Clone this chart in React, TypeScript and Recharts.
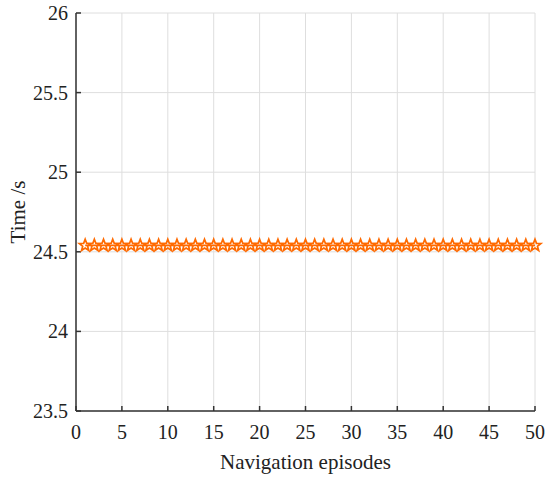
import { LineChart, Line, XAxis, YAxis, CartesianGrid } from "recharts";

const episodes = [
  1, 2, 3, 4, 5, 6, 7, 8, 9, 10, 11, 12, 13, 14, 15, 16, 17, 18, 19, 20, 21, 22, 23, 24, 25,
  26, 27, 28, 29, 30, 31, 32, 33, 34, 35, 36, 37, 38, 39, 40, 41, 42, 43, 44, 45, 46, 47, 48, 49, 50,
];
const times = [
  24.54, 24.54, 24.54, 24.54, 24.54, 24.54, 24.54, 24.54, 24.54, 24.54,
  24.54, 24.54, 24.54, 24.54, 24.54, 24.54, 24.54, 24.54, 24.54, 24.54,
  24.54, 24.54, 24.54, 24.54, 24.54, 24.54, 24.54, 24.54, 24.54, 24.54,
  24.54, 24.54, 24.54, 24.54, 24.54, 24.54, 24.54, 24.54, 24.54, 24.54,
  24.54, 24.54, 24.54, 24.54, 24.54, 24.54, 24.54, 24.54, 24.54, 24.54,
];
const xTicks = [0, 5, 10, 15, 20, 25, 30, 35, 40, 45, 50];
const yTicks = [23.5, 24, 24.5, 25, 25.5, 26];

const data = episodes.map((ep, i) => ({ ep, time: times[i] }));

const FONT = "'Liberation Serif', 'Times New Roman', serif";
const AXIS = "#333";
const ORANGE = "#ff6a00";
const TEXT = "#222";

// pentagram marker, like MATLAB's 'p'
const Star = (props: any) => {
  const { cx, cy } = props;
  if (cx == null || cy == null) return null;
  const outer = 6.2;
  const inner = 2.6;
  const pts: string[] = [];
  for (let k = 0; k < 10; k++) {
    const r = k % 2 === 0 ? outer : inner;
    const a = -Math.PI / 2 + (k * Math.PI) / 5;
    pts.push(`${cx + r * Math.cos(a)},${cy + r * Math.sin(a)}`);
  }
  return <polygon points={pts.join(" ")} fill="none" stroke={ORANGE} strokeWidth={1.7} />;
};

const renderXTick = ({ x, y, payload }: any) => (
  <text x={x} y={y} dy="0.72em" textAnchor="middle" style={{ fontSize: 20, fontFamily: FONT, fill: TEXT }}>
    {payload.value}
  </text>
);

const renderYTick = ({ x, y, payload }: any) => (
  <text x={x} y={y} dy="0.35em" textAnchor="end" style={{ fontSize: 20, fontFamily: FONT, fill: TEXT }}>
    {payload.value}
  </text>
);

export default function App() {
  return (
    <div style={{ position: "absolute", left: 0, top: 0, width: 550, height: 478, background: "#fff", fontFamily: FONT }}>
      <LineChart
        width={550}
        height={478}
        data={data}
        margin={{ top: 13, right: 15, left: 16, bottom: 37 }}
      >
        <CartesianGrid xAxisId="b" yAxisId="l" stroke="#dedede" strokeWidth={1} />
        <XAxis
          xAxisId="b"
          dataKey="ep"
          type="number"
          domain={[0, 50]}
          ticks={xTicks}
          height={30}
          stroke={AXIS}
          strokeWidth={1.5}
          tickSize={-5}
          tickMargin={19}
          tick={renderXTick}
          label={{ value: "Navigation episodes", position: "insideBottom", offset: -28, fontSize: 21, fill: TEXT, fontFamily: FONT }}
        />
        <XAxis
          xAxisId="t"
          orientation="top"
          dataKey="ep"
          type="number"
          domain={[0, 50]}
          ticks={xTicks}
          height={0}
          stroke={AXIS}
          strokeWidth={1.5}
          tickSize={-5}
          tick={false}
        />
        <YAxis
          yAxisId="l"
          type="number"
          domain={[23.5, 26]}
          ticks={yTicks}
          width={60}
          stroke={AXIS}
          strokeWidth={1.5}
          tickSize={-5}
          tickMargin={13}
          tick={renderYTick}
          label={{ value: "Time /s", angle: -90, position: "insideLeft", offset: 2, fontSize: 21, fill: TEXT, fontFamily: FONT, style: { textAnchor: "middle" } }}
        />
        <YAxis
          yAxisId="r"
          orientation="right"
          type="number"
          domain={[23.5, 26]}
          ticks={yTicks}
          width={0}
          stroke={AXIS}
          strokeWidth={1.5}
          tickSize={-5}
          tick={false}
        />
        <Line
          xAxisId="b"
          yAxisId="l"
          type="linear"
          dataKey="time"
          stroke={ORANGE}
          strokeWidth={1.8}
          dot={<Star />}
          activeDot={false}
          isAnimationActive={false}
        />
      </LineChart>
    </div>
  );
}
